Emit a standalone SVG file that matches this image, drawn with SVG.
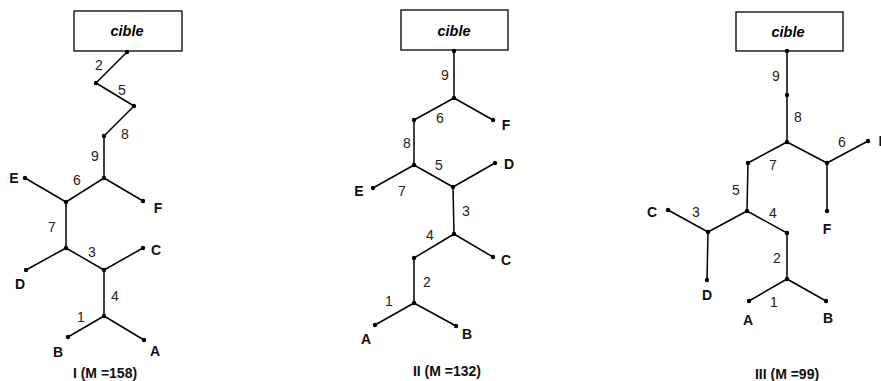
<svg xmlns="http://www.w3.org/2000/svg" width="881" height="381" viewBox="0 0 881 381">
<style>
.e{stroke:#000;stroke-width:1.5;fill:none;stroke-linecap:round;stroke-linejoin:round}
.d{fill:#000}
.box{fill:#fff;stroke:#000;stroke-width:1.3}
.t{font-family:"Liberation Sans",Arial,sans-serif;text-anchor:middle;dominant-baseline:central}
.cb{font-size:14.5px;font-weight:bold;font-style:italic;fill:#000}
.n{font-size:14px;fill:#222}
.l{font-size:14px;font-weight:bold;fill:#111}
.cap{font-size:14px;font-weight:bold;fill:#111}
</style>
<rect width="881" height="381" fill="#fff"/>

<!-- Tree I -->
<g id="treeI-connectors">
<polyline class="e" points="127,52 96,83 134,106 104,136 104,178"/>
<polyline class="e" points="25,178 66,202 104,178 143,201"/>
<polyline class="e" points="66,202 66,248"/>
<polyline class="e" points="26,270 66,248 104,270 143,248"/>
<polyline class="e" points="104,270 104,316"/>
<polyline class="e" points="68,337 104,316 144,340"/>
</g>
<g id="treeI-cible"><rect class="box" x="74" y="11" width="108" height="40"/><text class="t cb" x="127" y="31">cible</text></g>
<g id="treeI-nodes">
<circle class="d" cx="127" cy="52" r="2.2"/><circle class="d" cx="96" cy="83" r="2.2"/><circle class="d" cx="134" cy="106" r="2.2"/>
<circle class="d" cx="104" cy="136" r="2.2"/><circle class="d" cx="104" cy="178" r="2.2"/><circle class="d" cx="25" cy="178" r="2.2"/>
<circle class="d" cx="66" cy="202" r="2.2"/><circle class="d" cx="143" cy="201" r="2.2"/><circle class="d" cx="66" cy="248" r="2.2"/>
<circle class="d" cx="143" cy="248" r="2.2"/><circle class="d" cx="104" cy="270" r="2.2"/><circle class="d" cx="26" cy="270" r="2.2"/>
<circle class="d" cx="104" cy="316" r="2.2"/><circle class="d" cx="68" cy="337" r="2.2"/><circle class="d" cx="144" cy="340" r="2.2"/>
</g>
<g id="treeI-labels">
<text class="t n" x="99" y="65">2</text><text class="t n" x="122" y="90">5</text><text class="t n" x="125" y="134">8</text>
<text class="t n" x="95" y="156">9</text><text class="t n" x="77" y="180">6</text><text class="t n" x="52" y="227">7</text>
<text class="t n" x="92" y="252">3</text><text class="t n" x="115" y="296">4</text><text class="t n" x="81" y="317">1</text>
<text class="t l" x="14" y="178">E</text><text class="t l" x="158" y="208">F</text><text class="t l" x="156" y="250">C</text>
<text class="t l" x="20" y="284">D</text><text class="t l" x="58" y="352">B</text><text class="t l" x="155" y="351">A</text>
<text class="t cap" x="105" y="373">I (M =158)</text>
</g>

<!-- Tree II -->
<g id="treeII-connectors">
<polyline class="e" points="454,51 454,98"/>
<polyline class="e" points="414,120 454,98 493,120"/>
<polyline class="e" points="414,120 414,165"/>
<polyline class="e" points="373,188 414,165 453,187 495,163"/>
<polyline class="e" points="453,187 454,234"/>
<polyline class="e" points="414,258 454,234 493,257"/>
<polyline class="e" points="414,258 414,303"/>
<polyline class="e" points="375,325 414,303 456,326"/>
</g>
<g id="treeII-cible"><rect class="box" x="401" y="10" width="107" height="40"/><text class="t cb" x="454" y="31">cible</text></g>
<g id="treeII-nodes">
<circle class="d" cx="454" cy="51" r="2.2"/><circle class="d" cx="454" cy="98" r="2.2"/><circle class="d" cx="493" cy="120" r="2.2"/>
<circle class="d" cx="414" cy="120" r="2.2"/><circle class="d" cx="414" cy="165" r="2.2"/><circle class="d" cx="495" cy="163" r="2.2"/>
<circle class="d" cx="373" cy="188" r="2.2"/><circle class="d" cx="453" cy="187" r="2.2"/><circle class="d" cx="454" cy="234" r="2.2"/>
<circle class="d" cx="493" cy="257" r="2.2"/><circle class="d" cx="414" cy="258" r="2.2"/><circle class="d" cx="414" cy="303" r="2.2"/>
<circle class="d" cx="375" cy="325" r="2.2"/><circle class="d" cx="456" cy="326" r="2.2"/>
</g>
<g id="treeII-labels">
<text class="t n" x="445" y="75">9</text><text class="t n" x="440" y="118">6</text><text class="t n" x="407" y="143">8</text>
<text class="t n" x="439" y="165">5</text><text class="t n" x="402" y="191">7</text><text class="t n" x="466" y="211">3</text>
<text class="t n" x="430" y="235">4</text><text class="t n" x="427" y="282">2</text><text class="t n" x="389" y="301">1</text>
<text class="t l" x="506" y="125">F</text><text class="t l" x="509" y="164">D</text><text class="t l" x="359" y="191">E</text>
<text class="t l" x="506" y="260">C</text><text class="t l" x="366" y="339">A</text><text class="t l" x="467" y="334">B</text>
<text class="t cap" x="447" y="371">II (M =132)</text>
</g>

<!-- Tree III -->
<g id="treeIII-connectors">
<polyline class="e" points="787,51 787,142"/>
<polyline class="e" points="748,163 787,142 827,163 868,141"/>
<polyline class="e" points="827,163 827,211"/>
<polyline class="e" points="748,163 747,211"/>
<polyline class="e" points="668,210 708,232 747,211 787,233"/>
<polyline class="e" points="708,232 707,280"/>
<polyline class="e" points="787,233 787,279"/>
<polyline class="e" points="749,301 787,279 826,301"/>
</g>
<g id="treeIII-cible"><rect class="box" x="736" y="12" width="107" height="39"/><text class="t cb" x="788" y="32">cible</text></g>
<g id="treeIII-nodes">
<circle class="d" cx="787" cy="51" r="2.2"/><circle class="d" cx="787" cy="95" r="2.2"/><circle class="d" cx="787" cy="142" r="2.2"/>
<circle class="d" cx="748" cy="163" r="2.2"/><circle class="d" cx="827" cy="163" r="2.2"/><circle class="d" cx="868" cy="141" r="2.2"/>
<circle class="d" cx="827" cy="211" r="2.2"/><circle class="d" cx="747" cy="211" r="2.2"/><circle class="d" cx="668" cy="210" r="2.2"/>
<circle class="d" cx="708" cy="232" r="2.2"/><circle class="d" cx="707" cy="280" r="2.2"/><circle class="d" cx="787" cy="233" r="2.2"/>
<circle class="d" cx="787" cy="279" r="2.2"/><circle class="d" cx="749" cy="301" r="2.2"/><circle class="d" cx="826" cy="301" r="2.2"/>
</g>
<g id="treeIII-labels">
<text class="t n" x="776" y="76">9</text><text class="t n" x="798" y="117">8</text><text class="t n" x="773" y="165">7</text>
<text class="t n" x="842" y="142">6</text><text class="t n" x="736" y="190">5</text><text class="t n" x="696" y="212">3</text>
<text class="t n" x="773" y="213">4</text><text class="t n" x="777" y="258">2</text><text class="t n" x="774" y="302">1</text>
<text class="t l" x="652" y="212">C</text><text class="t l" x="707" y="295">D</text><text class="t l" x="827" y="229">F</text>
<text class="t l" x="748" y="320">A</text><text class="t l" x="828" y="318">B</text>
<text class="t l" x="878.5" y="141" style="text-anchor:start">E</text>
<text class="t cap" x="787" y="374">III (M =99)</text>
</g>
</svg>
